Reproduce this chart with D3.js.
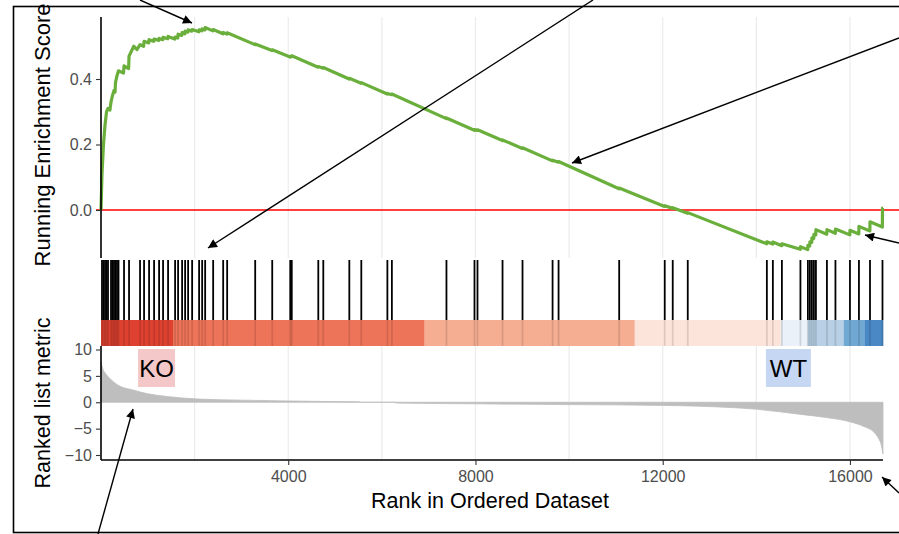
<!DOCTYPE html>
<html>
<head>
<meta charset="utf-8">
<script src="https://cdn.jsdelivr.net/npm/d3@7"></script>
<style>
  body { margin: 0; background: #fff; }
  svg { display: block; font-family: "Liberation Sans", Arial, sans-serif; }
</style>
</head>
<body>
<svg id="chart" width="899" height="534"></svg>
<script>
// ---- data ----
var listSize = 16706;

var hitRanks = [21, 53, 86, 118, 150, 214, 246, 278, 310, 342, 374, 492, 599, 834, 920, 1027,
  1134, 1241, 1326, 1433, 1583, 1647, 1733, 1797, 1861, 1947, 2096, 2161, 2225, 2396, 2610,
  2695, 3294, 3658, 4043, 4075, 4642, 4749, 5305, 5561, 6118, 6214, 7380, 7979, 8043, 8578,
  9005, 9647, 9775, 11070, 12043, 12214, 12535, 14225, 14353, 14546, 14942, 15101, 15144,
  15187, 15230, 15273, 15508, 15690, 16000, 16192, 16428, 16695];

var esRanks = [0, 21, 53, 86, 118, 150, 190, 214, 246, 278, 300, 310, 342, 374, 480, 492, 590,
  599, 700, 770, 834, 910, 920, 1020, 1027, 1125, 1134, 1235, 1241, 1320, 1326, 1425, 1433,
  1575, 1583, 1640, 1647, 1725, 1733, 1790, 1797, 1855, 1861, 1940, 1947, 2090, 2096, 2155,
  2161, 2220, 2225, 2390, 2396, 2605, 2610, 2690, 2695, 3290, 3294, 3654, 3658, 4040, 4043,
  4072, 4075, 4639, 4642, 4746, 4749, 5302, 5305, 5558, 5561, 6115, 6118, 6211, 6214, 7377,
  7380, 7976, 7979, 8040, 8043, 8575, 8578, 9002, 9005, 9644, 9647, 9772, 9775, 11067, 11070,
  12040, 12043, 12211, 12214, 12532, 12535, 14222, 14225, 14350, 14353, 14543, 14546, 14939,
  14942, 15098, 15101, 15141, 15144, 15184, 15187, 15227, 15230, 15270, 15273, 15505, 15508,
  15687, 15690, 15997, 16000, 16189, 16192, 16425, 16428, 16692, 16695, 16706];

var esScores = [0, 0.11, 0.20, 0.26, 0.30, 0.31, 0.305, 0.33, 0.35, 0.365, 0.36, 0.39, 0.41,
  0.425, 0.418, 0.44, 0.432, 0.47, 0.50, 0.49, 0.505, 0.50, 0.515, 0.51, 0.52, 0.515, 0.522,
  0.518, 0.524, 0.52, 0.527, 0.523, 0.53, 0.522, 0.528, 0.525, 0.537, 0.533, 0.542, 0.538,
  0.546, 0.543, 0.55, 0.546, 0.551, 0.544, 0.55, 0.547, 0.553, 0.55, 0.557, 0.547, 0.551,
  0.538, 0.542, 0.537, 0.541, 0.505, 0.507, 0.487, 0.489, 0.467, 0.469, 0.468, 0.471, 0.436,
  0.438, 0.433, 0.435, 0.400, 0.402, 0.387, 0.389, 0.354, 0.356, 0.352, 0.354, 0.279, 0.281,
  0.2435, 0.2455, 0.243, 0.245, 0.212, 0.214, 0.188, 0.190, 0.150, 0.152, 0.146, 0.148, 0.065,
  0.067, 0.011, 0.013, 0.005, 0.007, -0.010, -0.008, -0.103, -0.097, -0.104, -0.098, -0.109,
  -0.103, -0.120, -0.112, -0.121, -0.108, -0.110, -0.097, -0.099, -0.085, -0.087, -0.074,
  -0.076, -0.060, -0.074, -0.060, -0.071, -0.058, -0.076, -0.062, -0.073, -0.050, -0.064,
  -0.036, -0.052, 0.006, 0.006];

var metricRanks = [0, 40, 100, 190, 350, 690, 1000, 1400, 2100, 3000, 4000, 5000, 5520, 5521,
  6290, 6291, 8000, 10000, 12000, 12800, 14030, 14950, 15500, 16020, 16300, 16510, 16620,
  16660, 16690, 16706];
var metricValues = [7.6, 6.3, 5.4, 4.5, 3.3, 2.3, 1.6, 1.1, 0.6, 0.4, 0.25, 0.12, 0.08, 0,
  0, -0.15, -0.3, -0.45, -0.6, -0.76, -1.35, -2.3, -2.9, -3.75, -4.6, -5.65, -7.0, -7.8,
  -9.0, -9.8];

var colorBreaks = [0, 1538, 6910, 11400, 14520, 15100, 15870, 16320, 16706];
var colorFills = ["#DE4130", "#EE7459", "#F6AE92", "#FDE4DA", "#EBF1F9", "#B8D0E5", "#70A8D4", "#4A87C5"];

var rankTicks = [4000, 8000, 12000, 16000];
var gridRanks = [2000, 4000, 6000, 8000, 10000, 12000, 14000, 16000];
var esTicks = [0, 0.2, 0.4];
var metricTicks = [10, 5, 0, -5, -10];

var groupLabels = ["KO", "WT"];
var groupFills = ["#F4C7C8", "#C6D7F4"];

// ---- layout ----
var svg = d3.select('#chart');
var plotLeft = 101, plotRight = 883;
var topPanel = { top: 17, bottom: 258 };
var hitPanel = { top: 260, bottom: 320 };
var barPanel = { top: 320, bottom: 346 };
var metricPanel = { top: 346, bottom: 460 };

var x = d3.scaleLinear().domain([0, listSize]).range([plotLeft, plotRight]);
var yEs = d3.scaleLinear().domain([0, 0.4]).range([210, 79]);
var yMetric = d3.scaleLinear().domain([-10, 10]).range([455, 349.5]);

// outer frame
svg.append('rect')
  .attr('x', 13.5).attr('y', 6.5)
  .attr('width', 920).attr('height', 526)
  .attr('fill', 'none')
  .attr('stroke', '#000')
  .attr('stroke-width', 1.6);

// grid lines
[topPanel, metricPanel].forEach(function (p) {
  svg.append('g')
    .selectAll('line')
    .data(gridRanks)
    .enter()
    .append('line')
    .attr('x1', function (d) { return x(d); })
    .attr('x2', function (d) { return x(d); })
    .attr('y1', p.top)
    .attr('y2', p.bottom)
    .attr('stroke', '#EBEBEB')
    .attr('stroke-width', 1.2);
});

// ---- top panel: running enrichment score ----
svg.append('line')
  .attr('x1', 96).attr('x2', 899)
  .attr('y1', yEs(0)).attr('y2', yEs(0))
  .attr('stroke', '#FF0000')
  .attr('stroke-width', 1.6);

var esLine = d3.line()
  .x(function (d, i) { return x(esRanks[i]); })
  .y(function (d) { return yEs(d); });

svg.append('path')
  .datum(esScores)
  .attr('d', esLine)
  .attr('fill', 'none')
  .attr('stroke', '#6AAF3B')
  .attr('stroke-width', 3.2)
  .attr('stroke-linejoin', 'round');

var esAxis = svg.append('g')
  .attr('transform', 'translate(' + plotLeft + ',0)')
  .call(d3.axisLeft(yEs).tickValues(esTicks).tickFormat(d3.format('.1f')).tickSize(5).tickPadding(4));
esAxis.select('.domain').attr('d', 'M0,' + topPanel.top + 'V' + topPanel.bottom);

// ---- hits ----
svg.append('g')
  .selectAll('line')
  .data(hitRanks)
  .enter()
  .append('line')
  .attr('x1', function (d) { return x(d); })
  .attr('x2', function (d) { return x(d); })
  .attr('y1', hitPanel.top)
  .attr('y2', hitPanel.bottom)
  .attr('stroke', '#000')
  .attr('stroke-width', 1.8);

// ---- colour bar ----
svg.append('g')
  .selectAll('rect')
  .data(colorFills)
  .enter()
  .append('rect')
  .attr('x', function (d, i) { return x(colorBreaks[i]); })
  .attr('width', function (d, i) { return x(colorBreaks[i + 1]) - x(colorBreaks[i]) + 0.3; })
  .attr('y', barPanel.top)
  .attr('height', barPanel.bottom - barPanel.top)
  .attr('fill', function (d) { return d; });

svg.append('g')
  .selectAll('line')
  .data(hitRanks)
  .enter()
  .append('line')
  .attr('x1', function (d) { return x(d); })
  .attr('x2', function (d) { return x(d); })
  .attr('y1', barPanel.top)
  .attr('y2', barPanel.bottom)
  .attr('stroke', '#000')
  .attr('stroke-opacity', 0.12)
  .attr('stroke-width', 1.8);

// ---- ranked list metric ----
var metricArea = d3.area()
  .x(function (d, i) { return x(metricRanks[i]); })
  .y0(yMetric(0))
  .y1(function (d) { return yMetric(d); })
  .curve(d3.curveMonotoneX);

svg.append('path')
  .datum(metricValues)
  .attr('d', metricArea)
  .attr('fill', '#BEBEBE')
  .attr('stroke', '#BEBEBE')
  .attr('stroke-width', 0.8);

var metricAxis = svg.append('g')
  .attr('transform', 'translate(' + plotLeft + ',0)')
  .call(d3.axisLeft(yMetric).tickValues(metricTicks).tickSize(5).tickPadding(4));
metricAxis.select('.domain').attr('d', 'M0,' + metricPanel.top + 'V' + metricPanel.bottom);

var rankAxis = svg.append('g')
  .attr('transform', 'translate(0,' + metricPanel.bottom + ')')
  .call(d3.axisBottom(x).tickValues(rankTicks).tickFormat(d3.format('d')).tickSize(5).tickPadding(6));
rankAxis.select('.domain').attr('d', 'M' + plotLeft + ',0H' + plotRight);

[esAxis, metricAxis, rankAxis].forEach(function (a) {
  a.select('.domain').attr('stroke', '#000').attr('stroke-width', 1.6);
  a.selectAll('.tick line').attr('stroke', '#333').attr('stroke-width', 1.1);
  a.selectAll('.tick text')
    .attr('fill', '#4D4D4D')
    .style('font-size', '16px')
    .style('font-family', '"Liberation Sans", Arial, sans-serif');
});

// group labels
var labelRanks = [1187, 14685];
var labelBoxes = svg.append('g')
  .selectAll('g')
  .data(groupLabels)
  .enter()
  .append('g')
  .attr('transform', function (d, i) { return 'translate(' + x(labelRanks[i]) + ',368)'; });
labelBoxes.append('rect')
  .attr('x', function (d, i) { return i === 0 ? -18.5 : -22.5; })
  .attr('y', -19)
  .attr('width', function (d, i) { return i === 0 ? 37 : 45; })
  .attr('height', 38)
  .attr('fill', function (d, i) { return groupFills[i]; });
labelBoxes.append('text')
  .attr('text-anchor', 'middle')
  .attr('y', 9)
  .style('font-size', '24px')
  .attr('fill', '#000')
  .text(function (d) { return d; });

// axis titles
svg.append('text')
  .attr('transform', 'translate(50,135) rotate(-90)')
  .attr('text-anchor', 'middle')
  .style('font-size', '22px')
  .text('Running Enrichment Score');

svg.append('text')
  .attr('transform', 'translate(50,403) rotate(-90)')
  .attr('text-anchor', 'middle')
  .style('font-size', '21.5px')
  .text('Ranked list metric');

svg.append('text')
  .attr('x', 490).attr('y', 508)
  .attr('text-anchor', 'middle')
  .style('font-size', '21.5px')
  .text('Rank in Ordered Dataset');

// ---- annotation arrows ----
var defs = svg.append('defs');
defs.append('marker')
  .attr('id', 'head')
  .attr('viewBox', '0 0 10 10')
  .attr('refX', 10).attr('refY', 5)
  .attr('markerWidth', 13).attr('markerHeight', 9)
  .attr('markerUnits', 'userSpaceOnUse')
  .attr('orient', 'auto')
  .append('path')
  .attr('d', 'M0,0L10,5L0,10z')
  .attr('fill', '#000');

var arrows = [
  [140, 0, 192, 23],
  [593, 0, 208, 248],
  [899, 38, 572, 163],
  [899, 243, 865, 235],
  [98, 534, 133, 409],
  [899, 493, 882, 477]
];
svg.append('g')
  .selectAll('line')
  .data(arrows)
  .enter()
  .append('line')
  .attr('x1', function (d) { return d[0]; })
  .attr('y1', function (d) { return d[1]; })
  .attr('x2', function (d) { return d[2]; })
  .attr('y2', function (d) { return d[3]; })
  .attr('stroke', '#000')
  .attr('stroke-width', 1.4)
  .attr('marker-end', 'url(#head)');
</script>
</body>
</html>
